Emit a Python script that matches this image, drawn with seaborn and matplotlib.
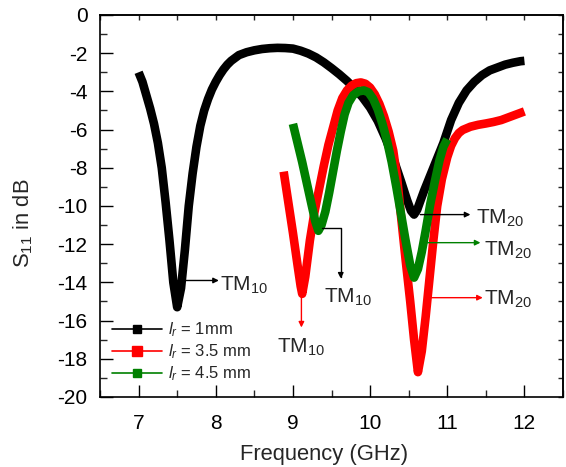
import matplotlib
matplotlib.use("Agg")
import matplotlib.pyplot as plt
from matplotlib.lines import Line2D
import numpy as np
import pandas as pd
import seaborn as sns

# Measured return loss for three ring lengths
freq_1mm = [7.00, 7.05, 7.10, 7.15, 7.20, 7.25, 7.30, 7.35, 7.40, 7.45, 7.50,
            7.55, 7.60, 7.65, 7.70, 7.75, 7.80, 7.85, 7.90, 7.95, 8.00, 8.05,
            8.10, 8.15, 8.20, 8.30, 8.40, 8.50, 8.60, 8.70, 8.80, 8.90, 9.00,
            9.10, 9.20, 9.30, 9.40, 9.50, 9.60, 9.70, 9.80, 9.90, 10.00, 10.10,
            10.20, 10.30, 10.40, 10.48, 10.53, 10.57, 10.61, 10.65, 10.70, 10.77,
            10.85, 10.95, 11.05, 11.15, 11.25, 11.35, 11.45, 11.55, 11.65, 11.75,
            11.85, 11.95, 12.00]
s11_1mm = [-3.0, -3.5, -4.2, -4.9, -5.7, -6.7, -8.0, -9.8, -11.8, -14.0, -15.3,
           -14.3, -12.3, -10.0, -8.3, -6.9, -5.8, -5.0, -4.4, -3.9, -3.5, -3.15,
           -2.85, -2.6, -2.4, -2.1, -1.95, -1.85, -1.78, -1.74, -1.72, -1.73, -1.76,
           -1.87, -2.02, -2.22, -2.48, -2.78, -3.1, -3.45, -3.85, -4.3, -4.85, -5.55,
           -6.45, -7.5, -8.7, -9.7, -10.25, -10.45, -10.2, -9.75, -9.2, -8.5,
           -7.7, -6.7, -5.5, -4.6, -3.95, -3.5, -3.15, -2.9, -2.75, -2.6,
           -2.5, -2.42, -2.4]

freq_35mm = [8.88, 8.94, 9.00, 9.06, 9.10, 9.12, 9.16, 9.22, 9.28, 9.34, 9.40,
             9.46, 9.52, 9.58, 9.64, 9.70, 9.76, 9.82, 9.88, 9.94, 10.00, 10.06,
             10.12, 10.18, 10.24, 10.30, 10.35, 10.40, 10.46, 10.52, 10.57, 10.62,
             10.67, 10.72, 10.77, 10.82, 10.87, 10.93, 11.00, 11.05, 11.10, 11.15,
             11.20, 11.30, 11.40, 11.50, 11.60, 11.70, 11.80, 11.90, 12.00]
s11_35mm = [-8.2, -9.8, -11.4, -13.1, -14.2, -14.6, -13.7, -11.8, -10.3, -9.1, -7.9,
            -6.8, -5.9, -5.0, -4.35, -3.95, -3.7, -3.57, -3.53, -3.6, -3.8, -4.15,
            -4.65, -5.3, -6.1, -7.1, -8.5, -10.5, -12.8, -15.0, -17.0, -18.7,
            -17.6, -15.8, -13.8, -11.8, -10.0, -8.6, -7.45, -6.85, -6.45, -6.18,
            -6.02, -5.85, -5.75, -5.68, -5.6, -5.5, -5.35, -5.2, -5.05]

freq_45mm = [9.00, 9.06, 9.12, 9.18, 9.24, 9.29, 9.33, 9.37, 9.42, 9.47, 9.52,
             9.57, 9.62, 9.67, 9.72, 9.78, 9.85, 9.92, 9.98, 10.04, 10.10, 10.16,
             10.22, 10.28, 10.34, 10.40, 10.46, 10.52, 10.57, 10.62, 10.67, 10.72,
             10.78, 10.84, 10.90, 10.95, 11.00]
s11_45mm = [-5.7, -6.7, -7.7, -8.8, -9.9, -10.8, -11.3, -11.0, -10.3, -9.3, -8.2,
            -7.1, -6.1, -5.2, -4.6, -4.2, -4.0, -3.95, -4.05, -4.4, -4.95, -5.7,
            -6.6, -7.7, -9.0, -10.4, -11.8, -13.1, -13.75, -13.3, -12.4, -11.3,
            -9.9, -8.7, -7.6, -6.9, -6.5]

series_labels = [r"$\mathit{l_r}$ = 1mm", r"$\mathit{l_r}$ = 3.5 mm", r"$\mathit{l_r}$ = 4.5 mm"]
series_colors = ["#000000", "#ff0000", "#008000"]

x_ticks = [7, 8, 9, 10, 11, 12]
y_ticks = [0, -2, -4, -6, -8, -10, -12, -14, -16, -18, -20]

sns.set_theme(style="ticks")
plt.rcParams["font.family"] = ["Liberation Sans", "DejaVu Sans"]
plt.rcParams["mathtext.fontset"] = "custom"
plt.rcParams["mathtext.rm"] = "Liberation Sans"
plt.rcParams["mathtext.it"] = "Liberation Sans:italic"
plt.rcParams["mathtext.default"] = "regular"
plt.rcParams["axes.unicode_minus"] = False

df = pd.concat([
    pd.DataFrame({"freq": freq_1mm, "s11": s11_1mm, "series": series_labels[0]}),
    pd.DataFrame({"freq": freq_35mm, "s11": s11_35mm, "series": series_labels[1]}),
    pd.DataFrame({"freq": freq_45mm, "s11": s11_45mm, "series": series_labels[2]}),
], ignore_index=True)

fig = plt.figure(figsize=(5.66, 4.67), dpi=100)
ax = fig.add_axes([0.1767, 0.1499, 0.8180, 0.8180])

for lab, col in zip(series_labels, series_colors):
    sub = df[df["series"] == lab]
    sns.lineplot(data=sub, x="freq", y="s11", color=col, linewidth=6.2,
                 sort=False, legend=False, ax=ax, solid_capstyle="butt",
                 solid_joinstyle="round")

ax.set_xlim(6.5, 12.5)
ax.set_ylim(-20, 0)
ax.set_xticks(x_ticks)
ax.set_yticks(y_ticks)
ax.set_xticks(np.arange(6.5, 12.51, 0.5), minor=True)
ax.set_yticks(np.arange(-20, 0.01, 1), minor=True)
ax.tick_params(which="major", direction="in", length=9, width=1, labelsize=15,
               colors="black")
ax.tick_params(which="minor", direction="in", length=5, width=1)
ax.tick_params(axis="x", which="major", pad=12)
ax.tick_params(axis="y", which="major", pad=9)

top = ax.secondary_xaxis("top")
top.set_xticks(np.arange(6.5, 12.51, 0.5))
top.tick_params(direction="in", length=3.5, width=1, labeltop=False)
right = ax.secondary_yaxis("right")
right.set_yticks(np.arange(-20, 0.01, 1))
right.tick_params(direction="in", length=3.5, width=1, labelright=False)

for sp in ax.spines.values():
    sp.set_linewidth(1.2)
    sp.set_color("black")

ax.set_xlabel("Frequency (GHz)", fontsize=15.8)
ax.xaxis.set_label_coords(0.484, -0.123)
ax.set_ylabel(r"S$_{11}$ in dB", fontsize=15.8)
ax.yaxis.set_label_coords(-0.14, 0.455)

# Mode labels
arrow_kw = dict(arrowstyle="-|>", lw=1.0, mutation_scale=8, shrinkA=0, shrinkB=0)
ax.annotate("", xy=(8.04, -13.9), xytext=(7.58, -13.9),
            arrowprops=dict(color="black", **arrow_kw))
ax.text(8.05, -14.43, r"TM$_{10}$", fontsize=15, va="baseline", ha="left")

ax.annotate("", xy=(9.11, -16.36), xytext=(9.11, -14.7),
            arrowprops=dict(color="#ff0000", **arrow_kw))
ax.text(8.80, -17.67, r"TM$_{10}$", fontsize=15, va="baseline", ha="left")

ax.annotate("", xy=(9.62, -13.8), xytext=(9.38, -11.13),
            arrowprops=dict(color="black",
                            connectionstyle="angle,angleA=0,angleB=90,rad=0",
                            **arrow_kw))
ax.text(9.40, -15.05, r"TM$_{10}$", fontsize=15, va="baseline", ha="left")

ax.annotate("", xy=(11.30, -10.45), xytext=(10.65, -10.45),
            arrowprops=dict(color="black", **arrow_kw))
ax.text(11.37, -10.94, r"TM$_{20}$", fontsize=15, va="baseline", ha="left")

ax.annotate("", xy=(11.43, -11.92), xytext=(10.74, -11.92),
            arrowprops=dict(color="#008000", **arrow_kw))
ax.text(11.47, -12.6, r"TM$_{20}$", fontsize=15, va="baseline", ha="left")

ax.annotate("", xy=(11.46, -14.8), xytext=(10.78, -14.8),
            arrowprops=dict(color="#ff0000", **arrow_kw))
ax.text(11.47, -15.17, r"TM$_{20}$", fontsize=15, va="baseline", ha="left")

handles = [Line2D([0], [0], color=c, lw=1.2, marker="s", markersize=ms)
           for c, ms in zip(series_colors, [6, 7.5, 6])]
ax.legend(handles, series_labels, loc="lower left", bbox_to_anchor=(0.0, 0.005),
          frameon=False, fontsize=12, handlelength=3.0, handletextpad=0.35,
          labelspacing=0.2, borderaxespad=0.3)

fig.savefig("out.png", dpi=100)
